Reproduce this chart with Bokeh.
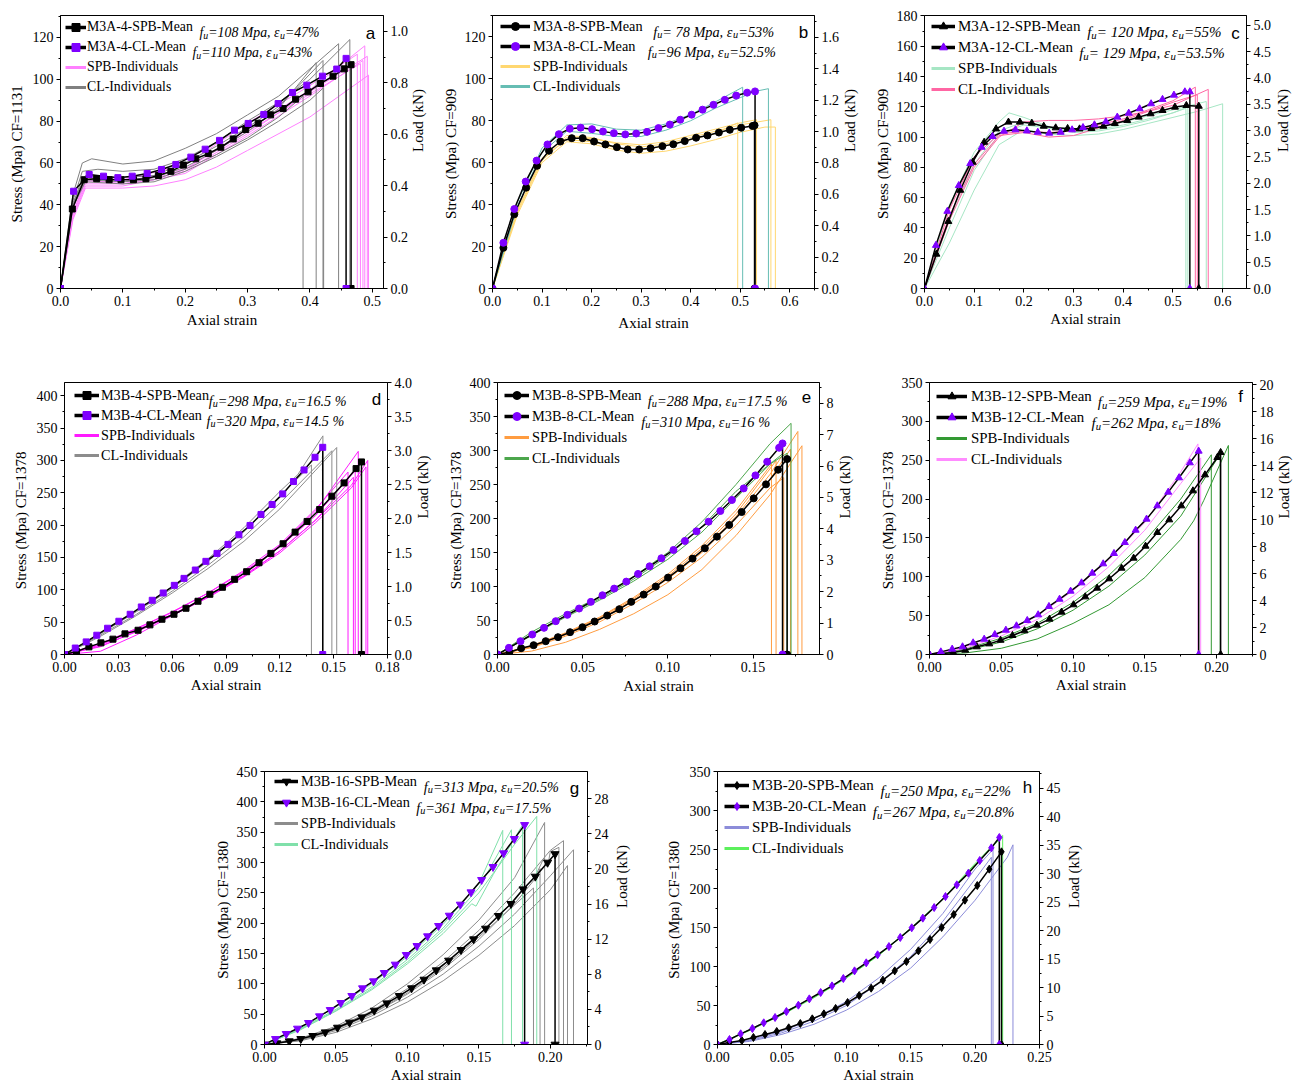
import math
from bokeh.plotting import figure
from bokeh.models import (Range1d, LinearAxis, FixedTicker, NumeralTickFormatter,
                          Legend, LegendItem, Label, Spacer)
from bokeh.layouts import row, column
from bokeh.embed import file_html
from bokeh.resources import INLINE

SERIF = "Liberation Serif"
SANS = "Liberation Sans"
PURPLE = "#7f00ff"
NAN = float("nan")

# ---------------------------------------------------------------- data
# panel a  (M3A-4)
a_spb_mean_x = [0, 0.019, 0.038, 0.058, 0.078, 0.097, 0.117, 0.137, 0.157, 0.177, 0.197, 0.217, 0.237, 0.257, 0.277, 0.297, 0.317, 0.337, 0.357, 0.377, 0.397, 0.417, 0.437, 0.455, 0.466, 0.466]
a_spb_mean_y = [0, 38, 52, 52.5, 52, 52, 52, 52.5, 54, 56, 59, 62, 64.5, 67.5, 71.5, 76, 79, 83, 86, 90.5, 94, 98, 101.5, 105, 107, 0]
a_cl_mean_x = [0, 0.021, 0.046, 0.069, 0.092, 0.115, 0.139, 0.162, 0.185, 0.209, 0.232, 0.255, 0.279, 0.301, 0.326, 0.349, 0.372, 0.395, 0.420, 0.443, 0.458, 0.458]
a_cl_mean_y = [0, 46.5, 54.5, 53.7, 53, 53.7, 55, 56.9, 59.3, 62.8, 66.6, 70.8, 75.7, 78.9, 83.2, 88.4, 93.7, 97.2, 101.5, 104.9, 110, 0]
a_spb_ind_x = [[0, 0.02, 0.04, 0.1, 0.15, 0.2, 0.3, 0.4, 0.488, 0.488],
               [0, 0.02, 0.04, 0.1, 0.15, 0.2, 0.25, 0.3, 0.4, 0.494, 0.494],
               [0, 0.02, 0.04, 0.1, 0.2, 0.3, 0.4, 0.476, 0.476],
               [0, 0.02, 0.04, 0.1, 0.2, 0.3, 0.4, 0.485, 0.485],
               [0, 0.02, 0.04, 0.1, 0.2, 0.3, 0.4, 0.481, 0.481],
               [0, 0.02, 0.04, 0.1, 0.2, 0.3, 0.4, 0.492, 0.492]]
a_spb_ind_y = [[0, 35, 50, 50, 52, 57, 76, 95, 116, 0],
               [0, 33, 48, 48, 49, 52, 58, 66, 82, 102, 0],
               [0, 38, 53, 52, 59, 79, 97, 112, 0],
               [0, 34, 49, 49, 55, 73, 92, 109, 0],
               [0, 36, 51, 51, 57, 75, 93, 107.5, 0],
               [0, 36, 52, 50, 56, 74, 94, 111, 0]]
a_cl_ind_x = [[0, 0.02, 0.035, 0.05, 0.1, 0.15, 0.2, 0.25, 0.3, 0.35, 0.4, 0.446, 0.446],
              [0, 0.02, 0.035, 0.06, 0.1, 0.15, 0.2, 0.25, 0.3, 0.35, 0.4, 0.464, 0.464],
              [0, 0.02, 0.035, 0.1, 0.15, 0.2, 0.25, 0.3, 0.35, 0.41, 0.41],
              [0, 0.02, 0.04, 0.1, 0.15, 0.2, 0.25, 0.3, 0.35, 0.389, 0.389],
              [0, 0.02, 0.04, 0.1, 0.15, 0.2, 0.25, 0.3, 0.35, 0.421, 0.421],
              [0, 0.02, 0.04, 0.1, 0.15, 0.2, 0.25, 0.3, 0.35, 0.4, 0.422, 0.422]]
a_cl_ind_y = [[0, 45, 60, 62, 59.5, 61, 67, 74, 83, 92, 105, 117, 0],
              [0, 42, 56, 57, 56, 57, 62, 70, 80, 89, 100, 119, 0],
              [0, 40, 53, 52, 53, 58, 66, 75, 86, 108, 0],
              [0, 40, 52, 51, 52, 57, 64, 72, 82, 92, 0],
              [0, 41, 54, 53, 54, 60, 68, 77, 87, 109, 0],
              [0, 39, 51, 50, 51, 56, 63, 71, 80, 90, 96, 0]]

# panel b  (M3A-8)
b_spb_mean_x = [0, 0.022, 0.044, 0.068, 0.090, 0.114, 0.137, 0.160, 0.182, 0.205, 0.228, 0.251, 0.273, 0.296, 0.319, 0.343, 0.365, 0.388, 0.411, 0.434, 0.457, 0.479, 0.502, 0.525, 0.529, 0.529]
b_spb_mean_y = [0, 19.4, 35.4, 48.1, 58.5, 65.7, 70.1, 71.7, 71.7, 70.1, 68.7, 67.4, 66.3, 66.3, 66.9, 67.9, 68.8, 70.3, 71.9, 73, 74.4, 75.7, 76.7, 77.5, 77.8, 0]
b_cl_mean_x = [0, 0.022, 0.044, 0.067, 0.089, 0.111, 0.134, 0.156, 0.178, 0.201, 0.223, 0.245, 0.268, 0.290, 0.312, 0.335, 0.358, 0.379, 0.402, 0.424, 0.446, 0.469, 0.492, 0.514, 0.530, 0.530]
b_cl_mean_y = [0, 21.8, 37.9, 51, 61, 68.7, 73.6, 76.2, 76.7, 76, 74.9, 74.1, 73.5, 73.9, 74.7, 76.5, 78.2, 80.5, 82.9, 85.3, 87.6, 90, 92, 93.4, 94, 0]
b_spb_ind_x = [[0, 0.05, 0.1, 0.15, 0.2, 0.25, 0.3, 0.35, 0.4, 0.45, 0.495, 0.495],
               [0, 0.05, 0.1, 0.15, 0.2, 0.25, 0.3, 0.35, 0.4, 0.45, 0.5, 0.533, 0.533],
               [0, 0.05, 0.1, 0.15, 0.2, 0.25, 0.3, 0.35, 0.4, 0.45, 0.5, 0.55, 0.571, 0.571],
               [0, 0.05, 0.1, 0.15, 0.2, 0.25, 0.3, 0.35, 0.4, 0.45, 0.5, 0.562, 0.562]]
b_spb_ind_y = [[0, 37, 62, 71, 70, 67, 66, 68, 71, 74, 79, 0],
               [0, 36, 61, 72, 71.5, 69.5, 68.5, 70, 73, 76, 79, 80.5, 0],
               [0, 35, 60, 70, 69, 66, 64.5, 65.5, 68, 71, 74.5, 77, 77, 0],
               [0, 37, 62, 73, 72, 69, 67.5, 69, 72, 75, 78, 80.5, 0]]
b_cl_ind_x = [[0, 0.05, 0.1, 0.15, 0.2, 0.25, 0.3, 0.35, 0.4, 0.45, 0.505, 0.505],
              [0, 0.05, 0.1, 0.15, 0.2, 0.25, 0.3, 0.35, 0.4, 0.45, 0.5, 0.53, 0.557, 0.557]]
b_cl_ind_y = [[0, 41, 67, 78, 78.5, 76, 75.5, 78.5, 83, 89, 96, 0],
              [0, 39, 65, 75, 74, 72.5, 72.5, 75.5, 80, 86, 91, 94, 95.3, 0]]

# panel c  (M3A-12)
c_spb_mean_x = [0, 0.024, 0.048, 0.072, 0.097, 0.120, 0.144, 0.169, 0.192, 0.216, 0.240, 0.264, 0.288, 0.312, 0.336, 0.360, 0.383, 0.408, 0.431, 0.455, 0.479, 0.504, 0.527, 0.552, 0.552]
c_spb_mean_y = [0, 22.7, 44.3, 64.9, 83.4, 96.6, 105.4, 109.9, 109.9, 109.2, 107.2, 106.1, 105.7, 105.4, 105.7, 107.2, 109, 111, 113.2, 115.4, 117.6, 119.8, 120.9, 120.4, 0]
c_cl_mean_x = [0, 0.023, 0.046, 0.069, 0.092, 0.115, 0.137, 0.160, 0.183, 0.206, 0.228, 0.251, 0.274, 0.297, 0.319, 0.342, 0.365, 0.388, 0.411, 0.433, 0.456, 0.479, 0.502, 0.524, 0.534, 0.534]
c_cl_mean_y = [0, 28.5, 51, 68, 82.5, 93.3, 100.4, 103.9, 104.8, 104.1, 103.2, 102.6, 103.2, 104.8, 106.3, 108.1, 110.1, 113.2, 115.8, 118.7, 122, 124.9, 127.7, 129.9, 129.9, 0]
c_spb_ind_x = [[0, 0.05, 0.1, 0.15, 0.17, 0.2, 0.25, 0.3, 0.35, 0.4, 0.45, 0.5, 0.526, 0.526],
               [0, 0.05, 0.1, 0.15, 0.2, 0.25, 0.3, 0.35, 0.4, 0.45, 0.5, 0.55, 0.6, 0.6],
               [0, 0.05, 0.1, 0.15, 0.2, 0.25, 0.3, 0.35, 0.4, 0.45, 0.5, 0.567, 0.567],
               [0, 0.05, 0.1, 0.15, 0.2, 0.25, 0.3, 0.35, 0.4, 0.45, 0.5, 0.53, 0.53]]
c_spb_ind_y = [[0, 55, 90, 110, 116, 113, 107, 103, 104, 107, 111, 116, 119, 0],
               [0, 30, 65, 95, 105, 102, 101, 102, 105, 109, 113, 117, 122, 0],
               [0, 40, 78, 102, 108, 106, 105, 106, 110, 114, 118, 123.5, 0],
               [0, 45, 82, 104, 110, 106, 104, 105, 108, 112, 116, 120, 0]]
c_cl_ind_x = [[0, 0.05, 0.1, 0.15, 0.2, 0.25, 0.3, 0.35, 0.4, 0.45, 0.5, 0.545, 0.545],
              [0, 0.05, 0.1, 0.15, 0.2, 0.25, 0.3, 0.35, 0.4, 0.45, 0.5, 0.571, 0.571],
              [0, 0.05, 0.1, 0.15, 0.2, 0.25, 0.3, 0.35, 0.4, 0.45, 0.5, 0.549, 0.549]]
c_cl_ind_y = [[0, 52, 87, 102, 104, 103, 104, 108, 112, 118, 124, 133, 0],
              [0, 45, 80, 100, 110, 111, 111, 112, 114, 117, 121, 131.5, 0],
              [0, 48, 82, 101, 103, 100, 101, 106, 111, 117, 123, 128, 0]]

# panel d  (M3B-4)
d_spb_mean_x = [0, 0.0067, 0.0136, 0.0203, 0.027, 0.0337, 0.041, 0.0476, 0.0543, 0.061, 0.0677, 0.0744, 0.081, 0.088, 0.0948, 0.1015, 0.1084, 0.115, 0.1218, 0.1285, 0.1352, 0.1422, 0.149, 0.1558, 0.1625, 0.1655, 0.1655]
d_spb_mean_y = [0, 4.6, 11.8, 18, 23.7, 31.9, 37.5, 45.8, 54.5, 62.2, 71.5, 82.3, 93.1, 103.9, 116.2, 128, 141.9, 156.3, 171.2, 189.2, 205.7, 224.2, 244.7, 265.3, 287.4, 297.7, 0]
d_cl_mean_x = [0, 0.006, 0.0121, 0.018, 0.024, 0.0303, 0.0366, 0.0428, 0.0489, 0.055, 0.0612, 0.0666, 0.0729, 0.0788, 0.085, 0.0911, 0.0972, 0.1034, 0.1095, 0.1157, 0.1216, 0.1276, 0.1335, 0.1396, 0.1439, 0.1439]
d_cl_mean_y = [0, 10, 19.5, 29.8, 40.6, 51.4, 62.2, 73.5, 83.8, 95.1, 106.9, 117.7, 130.6, 144, 156.3, 170.2, 185.1, 199.5, 216.5, 231.9, 248.3, 267.4, 285.3, 304.9, 320.3, 0]
d_spb_ind_x = [[0, 0.02, 0.04, 0.06, 0.08, 0.1, 0.12, 0.14, 0.158, 0.158],
               [0, 0.02, 0.04, 0.06, 0.08, 0.1, 0.12, 0.14, 0.1637, 0.1637],
               [0, 0.02, 0.04, 0.06, 0.08, 0.1, 0.12, 0.14, 0.16, 0.169, 0.169],
               [0, 0.02, 0.04, 0.06, 0.08, 0.1, 0.12, 0.14, 0.16, 0.168, 0.168],
               [0, 0.02, 0.04, 0.06, 0.08, 0.1, 0.12, 0.14, 0.162, 0.162],
               [0, 0.02, 0.04, 0.06, 0.08, 0.1, 0.12, 0.14, 0.161, 0.161]]
d_spb_ind_y = [[0, 15, 40, 65, 95, 130, 170, 225, 282, 0],
               [0, 5, 30, 60, 90, 125, 168, 222, 314, 0],
               [0, 15, 38, 62, 90, 122, 160, 208, 262, 300, 0],
               [0, 13, 35, 60, 88, 120, 157, 204, 258, 290, 0],
               [0, 17, 40, 66, 95, 128, 166, 215, 284, 0],
               [0, 12, 36, 61, 89, 121, 160, 208, 274, 0]]
d_cl_ind_x = [[0, 0.02, 0.04, 0.06, 0.08, 0.1, 0.12, 0.13, 0.144, 0.144],
              [0, 0.02, 0.04, 0.06, 0.08, 0.1, 0.12, 0.14, 0.1517, 0.1517],
              [0, 0.02, 0.04, 0.06, 0.08, 0.1, 0.12, 0.14, 0.149, 0.149],
              [0, 0.02, 0.04, 0.06, 0.08, 0.1, 0.12, 0.1376, 0.1376]]
d_cl_ind_y = [[0, 33, 68, 105, 148, 196, 252, 278, 338, 0],
              [0, 28, 60, 95, 133, 175, 225, 285, 320, 0],
              [0, 30, 62, 98, 138, 182, 234, 290, 315, 0],
              [0, 32, 66, 102, 144, 190, 245, 293, 0]]

# panel e  (M3B-8)
e_spb_mean_x = [0, 0.007, 0.0139, 0.0212, 0.0283, 0.0355, 0.0426, 0.0499, 0.057, 0.0644, 0.0715, 0.0785, 0.0858, 0.0929, 0.1001, 0.1074, 0.1145, 0.1217, 0.1288, 0.136, 0.1433, 0.1504, 0.1576, 0.1647, 0.170, 0.170]
e_spb_mean_y = [0, 3.4, 9.3, 13.7, 19.6, 25.5, 32.8, 40.1, 48.5, 57.3, 66.6, 77.4, 88.1, 99.9, 113.1, 126.8, 141, 156.2, 173.3, 190.5, 209.5, 229.6, 250.2, 271.7, 287.4, 0]
e_cl_mean_x = [0, 0.0067, 0.0135, 0.0204, 0.0273, 0.0342, 0.041, 0.0479, 0.0548, 0.0616, 0.0685, 0.0756, 0.0825, 0.0893, 0.0962, 0.1033, 0.11, 0.1168, 0.1239, 0.1308, 0.1376, 0.1445, 0.1514, 0.1583, 0.1653, 0.1673, 0.1673]
e_cl_mean_y = [0, 9.8, 19.6, 29.4, 39.2, 49, 58.3, 67.6, 77.4, 87.1, 96.9, 107.2, 118.5, 129.7, 141.5, 153.7, 167, 181.2, 195.3, 211, 227.2, 244.3, 263.4, 283.5, 304, 310.4, 0]
e_spb_ind_x = [[0, 0.02, 0.04, 0.06, 0.08, 0.1, 0.12, 0.14, 0.16, 0.1787, 0.1787],
               [0, 0.02, 0.04, 0.06, 0.08, 0.1, 0.12, 0.14, 0.16, 0.1763, 0.1763],
               [0, 0.02, 0.04, 0.06, 0.08, 0.1, 0.12, 0.14, 0.16, 0.168, 0.168],
               [0, 0.02, 0.04, 0.06, 0.08, 0.1, 0.12, 0.14, 0.1608, 0.1608],
               [0, 0.02, 0.04, 0.06, 0.08, 0.1, 0.12, 0.14, 0.16, 0.172, 0.172],
               [0, 0.02, 0.04, 0.06, 0.08, 0.1, 0.12, 0.14, 0.1635, 0.1635]]
e_spb_ind_y = [[0, 5, 18, 37, 60, 88, 125, 175, 235, 307, 0],
               [0, 12, 30, 52, 80, 112, 152, 203, 265, 328, 0],
               [0, 10, 27, 48, 75, 106, 143, 190, 245, 260, 0],
               [0, 13, 32, 55, 84, 118, 160, 212, 280, 0],
               [0, 11, 29, 51, 79, 111, 150, 200, 258, 302, 0],
               [0, 12, 31, 54, 82, 115, 156, 207, 285, 0]]
e_cl_ind_x = [[0, 0.02, 0.04, 0.06, 0.08, 0.1, 0.12, 0.14, 0.16, 0.1723, 0.1723],
              [0, 0.02, 0.04, 0.06, 0.08, 0.1, 0.12, 0.14, 0.16, 0.170, 0.170],
              [0, 0.02, 0.04, 0.06, 0.08, 0.1, 0.12, 0.14, 0.1673, 0.1673]]
e_cl_ind_y = [[0, 33, 60, 85, 115, 150, 195, 250, 310, 340, 0],
              [0, 28, 55, 80, 108, 140, 180, 230, 280, 296, 0],
              [0, 30, 57, 82, 111, 145, 188, 240, 295, 0]]

# panel f  (M3B-12)
f_spb_mean_x = [0, 0.008, 0.0165, 0.0249, 0.033, 0.0416, 0.0495, 0.0578, 0.0662, 0.0748, 0.0836, 0.092, 0.1003, 0.1085, 0.1168, 0.1252, 0.1338, 0.1422, 0.1505, 0.1587, 0.167, 0.1754, 0.1835, 0.1919, 0.2005, 0.2028, 0.2028]
f_spb_mean_y = [0, 1.0, 2.6, 5.6, 9.9, 13.7, 18.4, 24.5, 30.5, 37.8, 45.5, 54.5, 64, 74.2, 85.4, 97.4, 111.1, 124, 139.4, 157, 173.3, 191.3, 210.6, 231.2, 253.5, 260, 0]
f_cl_mean_x = [0, 0.0079, 0.0158, 0.023, 0.0304, 0.0381, 0.0455, 0.0532, 0.0606, 0.0681, 0.0757, 0.0832, 0.0906, 0.0983, 0.1059, 0.1134, 0.121, 0.1285, 0.1361, 0.1436, 0.1512, 0.1587, 0.1663, 0.1738, 0.1814, 0.1875, 0.1875]
f_cl_mean_y = [0, 3.4, 6.9, 9.9, 15, 19.7, 25.7, 31.3, 36.9, 43.8, 51.1, 61.8, 71.2, 81.5, 92.2, 104.7, 116.7, 130, 144.1, 160, 174.2, 191.3, 208.9, 227.4, 246.7, 261.7, 0]
f_spb_ind_x = [[0, 0.025, 0.05, 0.075, 0.1, 0.125, 0.15, 0.175, 0.184, 0.191, 0.2082, 0.2082],
               [0, 0.025, 0.05, 0.075, 0.1, 0.125, 0.15, 0.175, 0.1963, 0.1963],
               [0, 0.025, 0.05, 0.075, 0.1, 0.125, 0.15, 0.175, 0.2025, 0.2025]]
f_spb_ind_y = [[0, 2, 8, 20, 40, 64, 99, 148, 172, 198, 269, 0],
               [0, 7, 21, 40, 67, 102, 146, 200, 257, 0],
               [0, 5, 16, 33, 57, 88, 128, 178, 258, 0]]
f_cl_ind_x = [[0, 0.025, 0.05, 0.075, 0.1, 0.125, 0.15, 0.175, 0.187, 0.187],
              [0, 0.025, 0.05, 0.075, 0.1, 0.125, 0.15, 0.175, 0.1889, 0.1889]]
f_cl_ind_y = [[0, 10, 28, 50, 82, 122, 170, 235, 271, 0],
              [0, 8, 24, 45, 75, 113, 160, 220, 253, 0]]

# panel g  (M3B-16)
g_spb_mean_x = [0, 0.0086, 0.0173, 0.0254, 0.0338, 0.0425, 0.0511, 0.0595, 0.0681, 0.0768, 0.0856, 0.0943, 0.1029, 0.1116, 0.1202, 0.1288, 0.1375, 0.1463, 0.1547, 0.1636, 0.1724, 0.1809, 0.1895, 0.1981, 0.2033, 0.2033]
g_spb_mean_y = [0, 2.2, 5.5, 9.3, 14.3, 20.3, 28, 36.3, 45, 56, 68.1, 80.2, 92.9, 107.1, 122.5, 138.5, 156, 173.6, 191.2, 212.1, 231.9, 256, 276.9, 300, 314, 0]
g_cl_mean_x = [0, 0.0077, 0.0152, 0.0231, 0.0308, 0.0385, 0.046, 0.0534, 0.0611, 0.0686, 0.0763, 0.0838, 0.0915, 0.0992, 0.1067, 0.1141, 0.1218, 0.1293, 0.137, 0.1445, 0.1519, 0.1599, 0.1673, 0.1748, 0.182, 0.182]
g_cl_mean_y = [0, 9.3, 17.6, 26.4, 35.7, 46.7, 57.1, 68.7, 80.2, 92.9, 104.4, 118.1, 131.9, 147.8, 162.6, 178.6, 195.6, 212.6, 230.8, 251.1, 271.4, 292.9, 315.4, 339, 362, 0]
g_spb_ind_x = [[0, 0.025, 0.05, 0.075, 0.1, 0.125, 0.15, 0.175, 0.196, 0.196],
               [0, 0.025, 0.05, 0.075, 0.1, 0.125, 0.15, 0.175, 0.2, 0.2092, 0.2092],
               [0, 0.025, 0.05, 0.075, 0.1, 0.125, 0.15, 0.175, 0.2, 0.2162, 0.2162],
               [0, 0.025, 0.05, 0.075, 0.1, 0.125, 0.15, 0.175, 0.2, 0.212, 0.212],
               [0, 0.025, 0.05, 0.075, 0.1, 0.125, 0.15, 0.1882, 0.1882],
               [0, 0.025, 0.05, 0.075, 0.1, 0.125, 0.15, 0.175, 0.19, 0.1928, 0.1928],
               [0, 0.025, 0.05, 0.075, 0.1, 0.125, 0.15, 0.175, 0.19, 0.195, 0.198, 0.2, 0.206, 0.206]]
g_spb_ind_y = [[0, 10, 30, 60, 100, 148, 205, 275, 366, 0],
               [0, 9, 28, 55, 92, 136, 188, 250, 320, 336, 0],
               [0, 7, 23, 47, 78, 116, 162, 215, 278, 321, 0],
               [0, 6, 20, 42, 70, 105, 147, 196, 255, 295, 0],
               [0, 8, 26, 51, 85, 127, 177, 258, 0],
               [0, 8, 25, 50, 83, 124, 173, 232, 275, 290, 0],
               [0, 9, 27, 53, 88, 130, 180, 238, 280, 305, 292, 318, 325, 0]]
g_cl_ind_x = [[0, 0.025, 0.05, 0.075, 0.1, 0.125, 0.15, 0.1667, 0.1667],
              [0, 0.025, 0.05, 0.075, 0.1, 0.125, 0.15, 0.1728, 0.1728],
              [0, 0.025, 0.05, 0.075, 0.1, 0.125, 0.145, 0.148, 0.16, 0.1805, 0.1805],
              [0, 0.025, 0.05, 0.075, 0.1, 0.125, 0.15, 0.175, 0.1905, 0.1905]]
g_cl_ind_y = [[0, 28, 62, 100, 145, 198, 265, 353, 0],
              [0, 26, 58, 95, 140, 192, 258, 354, 0],
              [0, 24, 55, 90, 133, 183, 232, 228, 280, 362, 0],
              [0, 25, 56, 92, 136, 188, 250, 330, 376, 0]]

# panel h  (M3B-20)
h_spb_mean_x = [0, 0.0093, 0.0189, 0.0279, 0.0369, 0.046, 0.0553, 0.0643, 0.0736, 0.0826, 0.0917, 0.101, 0.11, 0.1193, 0.1284, 0.1376, 0.1467, 0.156, 0.165, 0.174, 0.1834, 0.1921, 0.2017, 0.211, 0.2205, 0.2205]
h_spb_mean_y = [0, 2.6, 5.1, 9, 12.8, 16.7, 21.4, 26.9, 32.9, 39.3, 46.2, 53.8, 62.8, 72.2, 82.5, 94.4, 106.4, 120.1, 134.6, 150, 166.7, 185, 203.8, 224.8, 247, 0]
h_cl_mean_x = [0, 0.0093, 0.018, 0.0271, 0.0359, 0.0447, 0.0535, 0.0628, 0.0713, 0.0801, 0.0889, 0.0977, 0.1064, 0.1155, 0.1243, 0.1331, 0.1419, 0.1508, 0.1594, 0.1682, 0.177, 0.1858, 0.1948, 0.2036, 0.2126, 0.2188, 0.2188]
h_cl_mean_y = [0, 6.4, 13.7, 20.5, 27.8, 34.6, 42.3, 50.4, 58.5, 66.7, 75.2, 84.6, 94.4, 104.7, 115, 125.6, 137.2, 149.6, 162, 175.6, 189.7, 204.7, 219.7, 235.9, 252.1, 265.4, 0]
h_spb_ind_x = [[0, 0.025, 0.05, 0.075, 0.1, 0.125, 0.15, 0.175, 0.2, 0.2126, 0.2126],
               [0, 0.025, 0.05, 0.075, 0.1, 0.125, 0.15, 0.175, 0.2, 0.2139, 0.2139],
               [0, 0.025, 0.05, 0.075, 0.1, 0.125, 0.15, 0.175, 0.2, 0.215, 0.225, 0.2294, 0.2294]]
h_spb_ind_y = [[0, 5, 15, 30, 50, 78, 113, 158, 212, 240, 0],
               [0, 6, 17, 33, 55, 85, 122, 168, 225, 250, 0],
               [0, 4, 13, 26, 44, 68, 98, 138, 185, 218, 240, 256, 0]]
h_cl_ind_x = [[0, 0.025, 0.05, 0.075, 0.1, 0.125, 0.15, 0.175, 0.2, 0.2214, 0.2214],
              [0, 0.025, 0.05, 0.075, 0.1, 0.125, 0.15, 0.175, 0.2, 0.219, 0.219]]
h_cl_ind_y = [[0, 19, 40, 61, 86, 115, 149, 187, 232, 268, 0],
              [0, 18, 38, 60, 85, 114, 148, 186, 230, 263, 0]]

# legend / label texts
labels_spb = ["M3A-4-SPB-Mean", "M3A-8-SPB-Mean", "M3A-12-SPB-Mean", "M3B-4-SPB-Mean",
              "M3B-8-SPB-Mean", "M3B-12-SPB-Mean", "M3B-16-SPB-Mean", "M3B-20-SPB-Mean"]
labels_cl = ["M3A-4-CL-Mean", "M3A-8-CL-Mean", "M3A-12-CL-Mean", "M3B-4-CL-Mean",
             "M3B-8-CL-Mean", "M3B-12-CL-Mean", "M3B-16-CL-Mean", "M3B-20-CL-Mean"]
info_spb = ["f_u=108 Mpa, ε_u=47%", "f_u= 78 Mpa, ε_u=53%", "f_u= 120 Mpa, ε_u=55%", "f_u=298 Mpa, ε_u=16.5 %",
            "f_u=288 Mpa, ε_u=17.5 %", "f_u=259 Mpa, ε_u=19%", "f_u=313 Mpa, ε_u=20.5%", "f_u=250 Mpa, ε_u=22%"]
info_cl = ["f_u=110 Mpa, ε_u=43%", "f_u=96 Mpa, ε_u=52.5%", "f_u= 129 Mpa, ε_u=53.5%", "f_u=320 Mpa, ε_u=14.5 %",
           "f_u=310 Mpa, ε_u=16 %", "f_u=262 Mpa, ε_u=18%", "f_u=361 Mpa, ε_u=17.5%", "f_u=267 Mpa, ε_u=20.8%"]
cf_values = ["1131", "909", "909", "1378", "1378", "1378", "1380", "1380"]
panel_letters = ["a", "b", "c", "d", "e", "f", "g", "h"]

# ticks
a_xticks = [0.0, 0.1, 0.2, 0.3, 0.4, 0.5]
b_xticks = [0.0, 0.1, 0.2, 0.3, 0.4, 0.5, 0.6]
c_xticks = [0.0, 0.1, 0.2, 0.3, 0.4, 0.5, 0.6]
d_xticks = [0.0, 0.03, 0.06, 0.09, 0.12, 0.15, 0.18]
e_xticks = [0.0, 0.05, 0.10, 0.15]
f_xticks = [0.0, 0.05, 0.10, 0.15, 0.20]
g_xticks = [0.0, 0.05, 0.10, 0.15, 0.20]
h_xticks = [0.0, 0.05, 0.10, 0.15, 0.20, 0.25]
a_yticks = [0, 20, 40, 60, 80, 100, 120]
b_yticks = [0, 20, 40, 60, 80, 100, 120]
c_yticks = [0, 20, 40, 60, 80, 100, 120, 140, 160, 180]
d_yticks = [0, 50, 100, 150, 200, 250, 300, 350, 400]
e_yticks = [0, 50, 100, 150, 200, 250, 300, 350, 400]
f_yticks = [0, 50, 100, 150, 200, 250, 300, 350]
g_yticks = [0, 50, 100, 150, 200, 250, 300, 350, 400, 450]
h_yticks = [0, 50, 100, 150, 200, 250, 300, 350]
a_rticks = [0.0, 0.2, 0.4, 0.6, 0.8, 1.0]
b_rticks = [0.0, 0.2, 0.4, 0.6, 0.8, 1.0, 1.2, 1.4, 1.6]
c_rticks = [0.0, 0.5, 1.0, 1.5, 2.0, 2.5, 3.0, 3.5, 4.0, 4.5, 5.0]
d_rticks = [0.0, 0.5, 1.0, 1.5, 2.0, 2.5, 3.0, 3.5, 4.0]
e_rticks = [0, 1, 2, 3, 4, 5, 6, 7, 8]
f_rticks = [0, 2, 4, 6, 8, 10, 12, 14, 16, 18, 20]
g_rticks = [0, 4, 8, 12, 16, 20, 24, 28]
h_rticks = [0, 5, 10, 15, 20, 25, 30, 35, 40, 45]

# ---------------------------------------------------------------- layout / style config
ITALIC_W = {' ': 250, 'f': 278, 'u': 500, '=': 675, 'M': 833, 'p': 500, 'a': 500, ',': 250, '.': 250,
            '%': 833, 'C': 667, 'F': 611, 'ε': 440}


def tw_italic(s, size):
    return sum(ITALIC_W.get(ch, 500) for ch in s) * size / 1000.0


CFG = [
    dict(bl=60, fw=323, br=55, bt=15, fh=273, bb=75, xr=(0, 0.518), yr=(0, 130.5), rr=(0, 1.062),
         xt=a_xticks, yt=a_yticks, rt=a_rticks, xf="0.0", yf="0", rf="0.0",
         cs="#ff80ff", cc="#808080", mk="square", ms=6, xls=3, rls=7, yls=5, fs=13.8,
         lx=5, gw=21, lso=1, ltop=2, lsp=0, ix=(139, 132), letter=(310, 18),
         d=(a_spb_mean_x, a_spb_mean_y, a_cl_mean_x, a_cl_mean_y, a_spb_ind_x, a_spb_ind_y, a_cl_ind_x, a_cl_ind_y)),
    dict(bl=54, fw=322, br=56, bt=15, fh=273, bb=75, xr=(0, 0.65), yr=(0, 130.2), rr=(0, 1.74),
         xt=b_xticks, yt=b_yticks, rt=b_rticks, xf="0.0", yf="0", rf="0.0",
         cs="#ffd770", cc="#66bdb3", mk="circle", ms=7, xls=6, rls=8, yls=3, fs=14.3,
         lx=8, gw=30, lso=3, ltop=1, lsp=0, ix=(160.7, 155.3), letter=(311, 17),
         d=(b_spb_mean_x, b_spb_mean_y, b_cl_mean_x, b_cl_mean_y, b_spb_ind_x, b_spb_ind_y, b_cl_ind_x, b_cl_ind_y)),
    dict(bl=54, fw=322, br=57, bt=15, fh=273, bb=75, xr=(0, 0.648), yr=(0, 180.3), rr=(0, 5.19),
         xt=c_xticks, yt=c_yticks, rt=c_rticks, xf="0.0", yf="0", rf="0.0",
         cs="#a6e6c4", cc="#ff66a3", mk="triangle", ms=7, xls=2, rls=9, yls=3, fs=15,
         lx=7, gw=24, lso=3, ltop=1, lsp=1, ix=(162.7, 154.7), letter=(311, 18),
         d=(c_spb_mean_x, c_spb_mean_y, c_cl_mean_x, c_cl_mean_y, c_spb_ind_x, c_spb_ind_y, c_cl_ind_x, c_cl_ind_y)),
    dict(bl=64, fw=323, br=56, bt=19, fh=272, bb=91, xr=(0, 0.18), yr=(0, 420.5), rr=(0, 4.0),
         xt=d_xticks, yt=d_yticks, rt=d_rticks, xf="0.00", yf="0", rf="0.0",
         cs="#ff1aff", cc="#8c8c8c", mk="square", ms=6, xls=2, rls=8, yls=5, fs=14.2,
         lx=10, gw=25, lso=2, ltop=3, lsp=0, ix=(144.3, 142), letter=(312, 17),
         d=(d_spb_mean_x, d_spb_mean_y, d_cl_mean_x, d_cl_mean_y, d_spb_ind_x, d_spb_ind_y, d_cl_ind_x, d_cl_ind_y)),
    dict(bl=54, fw=322, br=56, bt=19, fh=272, bb=91, xr=(0, 0.189), yr=(0, 400), rr=(0, 8.66),
         xt=e_xticks, yt=e_yticks, rt=e_rticks, xf="0.00", yf="0", rf="0",
         cs="#ff9c40", cc="#4ca64c", mk="circle", ms=7, xls=3, rls=8, yls=3, fs=14.4,
         lx=7, gw=25, lso=3, ltop=3, lsp=1, ix=(150.3, 143.7), letter=(309, 14),
         d=(e_spb_mean_x, e_spb_mean_y, e_cl_mean_x, e_cl_mean_y, e_spb_ind_x, e_spb_ind_y, e_cl_ind_x, e_cl_ind_y)),
    dict(bl=54, fw=323, br=51, bt=19, fh=272, bb=91, xr=(0, 0.225), yr=(0, 350), rr=(0, 20.15),
         xt=f_xticks, yt=f_yticks, rt=f_rticks, xf="0.00", yf="0", rf="0",
         cs="#339933", cc="#ff8cff", mk="triangle", ms=7, xls=2, rls=7, yls=3, fs=14.9,
         lx=7, gw=31, lso=4, ltop=4, lsp=1, ix=(168.3, 162), letter=(311, 14),
         d=(f_spb_mean_x, f_spb_mean_y, f_cl_mean_x, f_cl_mean_y, f_spb_ind_x, f_spb_ind_y, f_cl_ind_x, f_cl_ind_y)),
    dict(bl=54, fw=323, br=73, bt=26, fh=273, bb=42, xr=(0, 0.226), yr=(0, 450), rr=(0, 31.1),
         xt=g_xticks, yt=g_yticks, rt=g_rticks, xf="0.00", yf="0", rf="0",
         cs="#8c8c8c", cc="#80e0aa", mk="inverted_triangle", ms=8, xls=2, rls=10, yls=3, fs=14.3,
         lx=10, gw=24, lso=3, ltop=0, lsp=1, ix=(159.3, 151.7), letter=(310, 17),
         d=(g_spb_mean_x, g_spb_mean_y, g_cl_mean_x, g_cl_mean_y, g_spb_ind_x, g_spb_ind_y, g_cl_ind_x, g_cl_ind_y)),
    dict(bl=57, fw=322, br=61, bt=26, fh=273, bb=42, xr=(0, 0.25), yr=(0, 350), rr=(0, 47.9),
         xt=h_xticks, yt=h_yticks, rt=h_rticks, xf="0.00", yf="0", rf="0",
         cs="#8c8cd9", cc="#5cf05c", mk="diamond", ms=8, xls=2, rls=10, yls=5, fs=15,
         lx=7, gw=25, lso=3, ltop=4, lsp=1, ix=(163, 155.3), letter=(310, 16),
         d=(h_spb_mean_x, h_spb_mean_y, h_cl_mean_x, h_cl_mean_y, h_spb_ind_x, h_spb_ind_y, h_cl_ind_x, h_cl_ind_y)),
]


def minors(ticks, lo, hi):
    step = ticks[1] - ticks[0]
    out = []
    t = ticks[0] - step / 2
    while t < hi + 1e-9:
        if t > lo - 1e-9:
            out.append(t)
        t += step
    return out


def style_axis(ax, ticks, lo, hi, fmt, label, standoff):
    ax.ticker = FixedTicker(ticks=ticks, minor_ticks=minors(ticks, lo, hi))
    ax.formatter = NumeralTickFormatter(format=fmt)
    ax.major_label_text_font = SERIF
    ax.major_label_text_font_size = "14px"
    ax.major_label_text_color = "black"
    ax.major_tick_in = 0
    ax.major_tick_out = 4
    ax.minor_tick_in = 0
    ax.minor_tick_out = 2
    ax.axis_line_color = "black"
    ax.major_tick_line_color = "black"
    ax.minor_tick_line_color = "black"
    ax.major_label_standoff = 3
    ax.axis_label = label
    ax.axis_label_text_font = SERIF
    ax.axis_label_text_font_size = "15px"
    ax.axis_label_text_font_style = "normal"
    ax.axis_label_text_color = "black"
    ax.axis_label_standoff = standoff


def make_panel(i):
    c = CFG[i]
    fw, fh = c["fw"], c["fh"]
    x0, x1 = c["xr"]
    y0, y1 = c["yr"]
    fs = c["fs"]
    p = figure(frame_width=fw, frame_height=fh, x_range=Range1d(x0, x1), y_range=Range1d(y0, y1),
               min_border_left=c["bl"], min_border_right=c["br"], min_border_top=c["bt"],
               min_border_bottom=c["bb"], output_backend="svg", toolbar_location=None)
    p.xgrid.visible = False
    p.ygrid.visible = False
    p.outline_line_color = "black"
    p.outline_line_alpha = 1.0
    p.background_fill_color = "white"
    p.border_fill_color = "white"

    def fx(px):
        return x0 + px / fw * (x1 - x0)

    def fy(py):
        return y1 - py / fh * (y1 - y0)

    style_axis(p.xaxis[0], c["xt"], x0, x1, c["xf"], "Axial strain", c["xls"])
    style_axis(p.yaxis[0], c["yt"], y0, y1, c["yf"], "Stress (Mpa)  CF=" + cf_values[i], c["yls"])
    p.extra_y_ranges = {"load": Range1d(*c["rr"])}
    rax = LinearAxis(y_range_name="load")
    style_axis(rax, c["rt"], c["rr"][0], c["rr"][1], c["rf"], "Load (kN)", c["rls"])
    if "axis_label_orientation" in rax.properties():
        rax.axis_label_orientation = math.pi / 2
    p.add_layout(rax, "right")

    sx, sy, cx, cy, sxi, syi, cxi, cyi = c["d"]
    p.multi_line(xs=sxi, ys=syi, line_color=c["cs"], line_width=1)
    p.multi_line(xs=cxi, ys=cyi, line_color=c["cc"], line_width=1)
    p.line(sx, sy, line_color="black", line_width=1.5)
    p.line(cx, cy, line_color="black", line_width=1.5)
    s1 = p.scatter(sx, sy, marker=c["mk"], size=c["ms"], fill_color="black", line_color="black")
    s2 = p.scatter(cx, cy, marker=c["mk"], size=c["ms"], fill_color=PURPLE, line_color=PURPLE)

    # legend proxies (a single NaN point: nothing drawn in the plot, only in the legend)
    d1 = p.line([NAN], [NAN], line_color="black", line_width=3.5)
    d2 = p.line([NAN], [NAN], line_color="black", line_width=3.5)
    d3 = p.line([NAN], [NAN], line_color=c["cs"], line_width=3)
    d4 = p.line([NAN], [NAN], line_color=c["cc"], line_width=3)
    items = [LegendItem(label=labels_spb[i], renderers=[d1, s1]),
             LegendItem(label=labels_cl[i], renderers=[d2, s2]),
             LegendItem(label="SPB-Individuals", renderers=[d3]),
             LegendItem(label="CL-Individuals", renderers=[d4])]
    lh = 20
    leg_h = 4 * lh + 3 * c["lsp"]
    leg = Legend(items=items, location=(c["lx"], fh - c["ltop"] - leg_h), padding=0, margin=0,
                 spacing=c["lsp"], label_height=lh, glyph_height=lh, glyph_width=c["gw"],
                 label_standoff=c["lso"], background_fill_alpha=0, border_line_alpha=0,
                 label_text_font=SERIF, label_text_font_size=f"{fs}px", label_text_color="black")
    p.add_layout(leg)

    # italic f_u / eps_u text after legend labels
    for k, info in enumerate([info_spb[i], info_cl[i]]):
        rc = c["ltop"] + lh / 2 + k * (lh + c["lsp"])
        xp = c["ix"][k]
        pieces = info.split("_u")
        seq = []
        for j, pc in enumerate(pieces):
            if j > 0:
                seq.append(("u", True))
            seq.append((pc, False))
        for txt, sub in seq:
            size = round(fs * 0.72, 1) if sub else fs
            base = rc + 5 + (3 if sub else 0)
            p.add_layout(Label(x=fx(xp), y=fy(base), text=txt, text_font=SERIF, text_font_style="italic",
                               text_font_size=f"{size}px", text_baseline="alphabetic", text_align="left",
                               text_color="black"))
            xp += tw_italic(txt, size)

    # panel letter
    lxp, lyp = c["letter"]
    p.add_layout(Label(x=fx(lxp), y=fy(lyp), text=panel_letters[i], text_font=SANS, text_font_size="17px",
                       text_align="center", text_baseline="middle", text_color="black"))
    return p


figs = [make_panel(i) for i in range(8)]
layout = column(
    row(figs[0], figs[1], figs[2]),
    row(figs[3], figs[4], figs[5]),
    row(Spacer(width=210, height=341), figs[6], figs[7]),
)

open("out.html", "w").write(file_html(layout, INLINE))
